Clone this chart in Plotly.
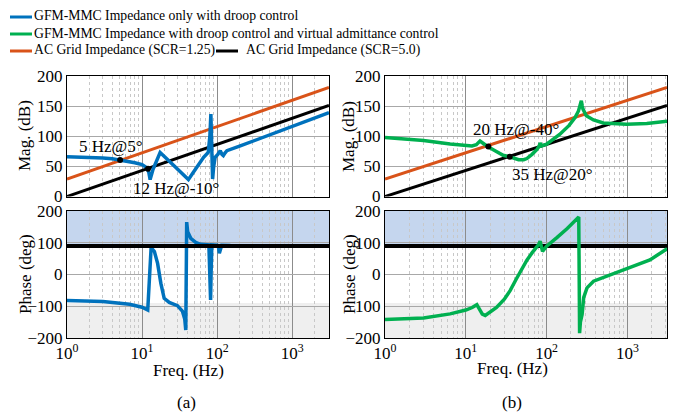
import plotly.graph_objects as go

# ---------------- data ----------------
# (a) GFM-MMC impedance, droop control only
a_mag_f = [1, 2, 3, 4, 5.1, 6.5, 8, 10, 11.5, 12.3, 12.8, 14, 15.5, 17.4, 22, 28, 35, 41.4, 47, 53.7,
           60, 66, 76, 80, 82.5, 83.5, 85, 87, 90, 94, 102, 110, 116, 121, 127, 135, 203, 300, 460,
           800, 1250, 2000, 3090]
a_mag_db = [66, 65, 64, 62.5, 60.6, 59, 56, 53, 48, 40, 28, 45, 60, 73, 61, 48, 37, 28, 38, 48,
            57, 65, 73, 100, 137, 90, 45, 29, 50, 65, 70, 76, 70, 68, 72, 76, 84, 92, 101,
            111, 120, 130, 139]
a_ph_f = [1, 3, 6.8, 10, 11.9, 12.6, 13.2, 14.6, 16.1, 17.8, 19.7, 23, 29.6, 34.4, 37, 38.2, 38.8,
          39.3, 40.5, 44.5, 51.8, 60, 77.6, 80.5, 81.8, 83, 85, 100, 104, 107, 110, 115, 150, 500, 3090]
a_ph_deg = [-82, -85, -94, -103, -112, -20, 85, 72, 35, -28, -75, -88, -98, -115, -140, -175, 0,
            165, 135, 114, 101, 95, 93, 0, -80, 0, 93, 92, 88, 67, 80, 92, 91, 90, 90]

# (b) GFM-MMC impedance, droop + virtual admittance control
b_mag_f = [1, 3, 6.4, 10, 11.9, 13.5, 15, 16.5, 18.6, 23, 29, 35, 40, 45, 52, 57, 66, 76, 81, 83,
           85, 87, 100, 145, 190, 225, 248, 262, 269, 276, 282, 310, 380, 504, 977, 1740, 2340, 3100]
b_mag_db = [98, 93, 87, 85, 84, 86, 92, 88, 83, 76, 68.5, 66, 63, 61, 61, 63, 70, 78, 84, 89,
            86, 84, 87, 103, 118, 131, 142, 152, 159, 151, 145, 134, 127, 122, 120, 121, 123, 125]
b_ph_f = [1, 3, 6.4, 10, 12, 13.7, 14.8, 16, 17.4, 20, 24, 30, 35.5, 42, 49.6, 57, 66, 75, 80, 83,
          86, 89, 95, 100, 134, 180, 250, 253, 256, 262, 275, 288, 316, 381, 560, 1000, 1900, 3100]
b_ph_deg = [-142, -137, -124, -112, -104, -95, -110, -125, -129, -118, -104, -78, -50, -15, 19,
            45, 68, 85, 95, 105, 85, 73, 82, 89, 116, 145, 181, 0, -185, -150, -126, -72, -42,
            -21, -5, 19, 46, 81]

# AC grid impedance
grid_f = [1, 3090]
grid_lo_scr_db = [29, 181]   # SCR = 1.25
grid_hi_scr_db = [0, 151]    # SCR = 5.0
grid_ph_deg = [90, 90]

# intersection markers
a_cross_f = [5.1, 12]
a_cross_db = [60.6, 46]
a_cross_txt = ["5 Hz@5°", "12 Hz@-10°"]
b_cross_f = [19, 35]
b_cross_db = [83, 66]
b_cross_txt = ["20 Hz@-40°", "35 Hz@20°"]

legend_names = ["GFM-MMC Impedance only with droop control",
                "GFM-MMC Impedance with droop control and virtual admittance control",
                "AC Grid Impedance (SCR=1.25)",
                "AC Grid Impedance (SCR=5.0)"]

x_ticks = [1, 10, 100, 1000]
x_ticktext = ["10<sup>0</sup>", "10<sup>1</sup>", "10<sup>2</sup>", "10<sup>3</sup>"]
mag_ticks = [0, 50, 100, 150, 200]
ph_ticks = [-200, -100, 0, 100, 200]

BLUE = "#0072BD"
GREEN = "#00B050"
ORANGE = "#D95319"
BLACK = "#000000"
FONT = "Liberation Serif"

W, H = 684, 416

fig = go.Figure()

def add(x, y, color, width, xa, ya):
    fig.add_trace(go.Scatter(x=x, y=y, mode="lines", line=dict(color=color, width=width),
                             xaxis=xa, yaxis=ya, showlegend=False, hoverinfo="skip"))

# (a) magnitude
add(grid_f, grid_lo_scr_db, ORANGE, 3, "x", "y")
add(grid_f, grid_hi_scr_db, BLACK, 3, "x", "y")
add(a_mag_f, a_mag_db, BLUE, 3.5, "x", "y")
fig.add_trace(go.Scatter(x=a_cross_f, y=a_cross_db, mode="markers", marker=dict(color="black", size=6),
                         xaxis="x", yaxis="y", showlegend=False, hoverinfo="skip"))
# (a) phase
add(grid_f, grid_ph_deg, ORANGE, 3, "x2", "y2")
add(a_ph_f, a_ph_deg, BLUE, 3.5, "x2", "y2")
add(grid_f, grid_ph_deg, BLACK, 4, "x2", "y2")
# (b) magnitude
add(grid_f, grid_lo_scr_db, ORANGE, 3, "x3", "y3")
add(grid_f, grid_hi_scr_db, BLACK, 3, "x3", "y3")
add(b_mag_f, b_mag_db, GREEN, 3.5, "x3", "y3")
fig.add_trace(go.Scatter(x=b_cross_f, y=b_cross_db, mode="markers", marker=dict(color="black", size=6),
                         xaxis="x3", yaxis="y3", showlegend=False, hoverinfo="skip"))
# (b) phase
add(grid_f, grid_ph_deg, ORANGE, 3, "x4", "y4")
add(grid_f, grid_ph_deg, BLACK, 4, "x4", "y4")
add(b_ph_f, b_ph_deg, GREEN, 3.5, "x4", "y4")

# domains (pixel based)
def xd(a, b):
    return [a / W, b / W]

def yd(top, bottom):
    return [(H - bottom) / H, (H - top) / H]

left_x = xd(67, 329)
right_x = xd(385, 667)
top_y = yd(76, 196.5)
bot_y = yd(211, 338)

minor_vals = [m * 10 ** e for e in range(0, 4) for m in range(2, 10)]

def xaxis(dom, anchor, labels):
    return dict(domain=dom, anchor=anchor, type="log", range=[0, 3.49], automargin=False,
                tickvals=x_ticks, ticktext=x_ticktext, showticklabels=labels,
                tickfont=dict(family=FONT, size=17, color="black"), ticks="",
                showgrid=True, gridcolor="#8c8c8c", gridwidth=1,
                minor=dict(tickvals=minor_vals, showgrid=True, gridcolor="#c8c8c8",
                           griddash="dot", gridwidth=1, ticks=""),
                showline=True, linecolor="black", linewidth=1, mirror=True, zeroline=False)

def yaxis(dom, anchor, rng, ticks):
    return dict(domain=dom, anchor=anchor, range=rng, tickvals=ticks, automargin=False,
                tickfont=dict(family=FONT, size=17, color="black"), ticks="",
                showgrid=True, gridcolor="#a8a8a8", gridwidth=1, zeroline=False,
                showline=True, linecolor="black", linewidth=1, mirror=True)

fig.update_layout(
    width=W, height=H, autosize=False, margin=dict(l=0, r=0, t=0, b=0, pad=0),
    paper_bgcolor="white", plot_bgcolor="white", showlegend=False,
    font=dict(family=FONT, color="black"),
    xaxis=xaxis(left_x, "y", False), yaxis=yaxis(top_y, "x", [0, 200], mag_ticks),
    xaxis2=xaxis(left_x, "y2", True), yaxis2=yaxis(bot_y, "x2", [-200, 200], ph_ticks),
    xaxis3=xaxis(right_x, "y3", False), yaxis3=yaxis(top_y, "x3", [0, 200], mag_ticks),
    xaxis4=xaxis(right_x, "y4", True), yaxis4=yaxis(bot_y, "x4", [-200, 200], ph_ticks),
)

# shaded phase regions
for xa, ya in [("x2", "y2"), ("x4", "y4")]:
    fig.add_shape(type="rect", xref=xa + " domain", yref=ya, x0=0, x1=1, y0=90, y1=200,
                  fillcolor="#c5d6ee", line=dict(width=0), layer="below")
    fig.add_shape(type="rect", xref=xa + " domain", yref=ya, x0=0, x1=1, y0=-200, y1=-90,
                  fillcolor="#efefef", line=dict(width=0), layer="below")

ann = []
# intersection labels
ann.append(dict(x=0.13, y=64, xref="x", yref="y", text=a_cross_txt[0], showarrow=False,
                xanchor="left", yanchor="bottom", font=dict(size=17, family=FONT)))
ann.append(dict(x=0.85, y=14, xref="x", yref="y", text=a_cross_txt[1], showarrow=False,
                xanchor="left", yanchor="middle", font=dict(size=17, family=FONT)))
ann.append(dict(x=1.07, y=92, xref="x3", yref="y3", text=b_cross_txt[0], showarrow=False,
                xanchor="left", yanchor="bottom", font=dict(size=17, family=FONT)))
ann.append(dict(x=1.55, y=18, xref="x3", yref="y3", text=b_cross_txt[1], showarrow=False,
                xanchor="left", yanchor="bottom", font=dict(size=17, family=FONT)))

def pa(text, px, py, size=17, angle=0, xanchor="center"):
    ann.append(dict(x=px / W, y=1 - py / H, xref="paper", yref="paper", text=text,
                    showarrow=False, textangle=angle, xanchor=xanchor, yanchor="middle",
                    font=dict(size=size, family=FONT, color="black")))

pa("Mag. (dB)", 25, 136, angle=-90)
pa("Phase (deg)", 25, 274, angle=-90)
pa("Mag. (dB)", 349, 136, angle=-90)
pa("Phase (deg)", 349, 274, angle=-90)
pa("Freq. (Hz)", 188, 370)
pa("Freq. (Hz)", 512, 368)
pa("(a)", 186, 402)
pa("(b)", 512, 402)

# manual legend
leg = [(legend_names[0], BLUE, 10, 32, 17),
       (legend_names[1], GREEN, 10, 32, 34),
       (legend_names[2], ORANGE, 10, 32, 51),
       (legend_names[3], BLACK, 216, 244, 51)]
for name, col, x0, tx, y in leg:
    fig.add_shape(type="line", xref="paper", yref="paper", x0=x0 / W, x1=(x0 + 22) / W,
                  y0=1 - y / H, y1=1 - y / H, line=dict(color=col, width=3))
    pa(name, tx, y - 1, size=13.7, xanchor="left")

fig.update_layout(annotations=ann)
fig.write_html("out.html", config={"displayModeBar": False},
               post_script="document.body.style.margin='0px';document.body.style.overflow='hidden';")
